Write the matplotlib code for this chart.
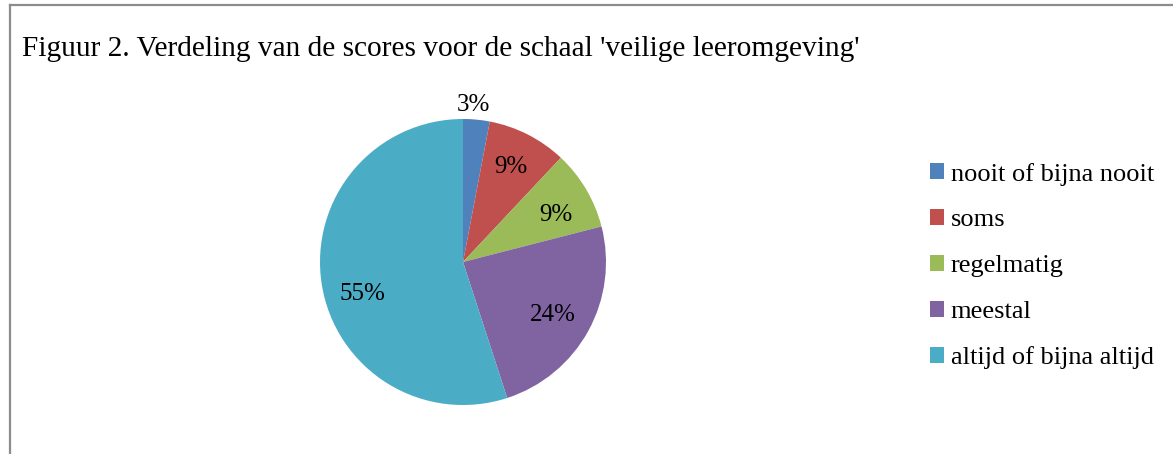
import numpy as np
import matplotlib.pyplot as plt
from matplotlib.lines import Line2D

plt.rcParams['font.family'] = ['Liberation Serif', 'DejaVu Serif']

categories = ['nooit of bijna nooit', 'soms', 'regelmatig', 'meestal', 'altijd of bijna altijd']
values = [3, 9, 9, 24, 55]
pct_labels = ['3%', '9%', '9%', '24%', '55%']
colors = ['#4F81BD', '#C0504D', '#9BBB59', '#8064A2', '#4BACC6']

W, H = 1173, 454
fig = plt.figure(figsize=(W / 100, H / 100), dpi=100)

# chart frame (only left and top edges visible)
fig.add_artist(Line2D([9.5 / W, 9.5 / W], [0, 1 - 5 / H], color='#8c8c8c', lw=1.6))
fig.add_artist(Line2D([9.5 / W, 1], [1 - 5 / H, 1 - 5 / H], color='#8c8c8c', lw=1.6))

fig.text(22 / W, 1 - 56 / H, "Figuur 2. Verdeling van de scores voor de schaal 'veilige leeromgeving'",
         fontsize=21.2, va='baseline', ha='left')

cx, cy, r = 463, H - 262, 143
ax = fig.add_axes([(cx - r) / W, (cy - r) / H, 2 * r / W, 2 * r / H])
wedges, _ = ax.pie(values, colors=colors, startangle=90, counterclock=False,
                   radius=1, wedgeprops=dict(linewidth=0))
ax.set_xlim(-1, 1)
ax.set_ylim(-1, 1)
ax.set_aspect('equal')
ax.axis('off')

# label placement (radius, angle shift) per wedge, best-fit style
lab_r = [1.115, 0.76, 0.74, 0.72, 0.73]
lab_shift = [1.5, 1, -2.5, -0.5, 7.5]
for w, t, rr, sh in zip(wedges, pct_labels, lab_r, lab_shift):
    ang = np.deg2rad((w.theta1 + w.theta2) / 2 + sh)
    ax.text(rr * np.cos(ang), rr * np.sin(ang), t, ha='center', va='center_baseline',
            fontsize=18, clip_on=False)

leg = fig.legend(wedges, categories, loc='center left', bbox_to_anchor=(919 / W, 1 - 266 / H),
                 frameon=False, fontsize=19, handlelength=0.55, handleheight=0.55,
                 handletextpad=0.25, labelspacing=0.89, borderaxespad=0)

fig.savefig('out.png', dpi=100)
